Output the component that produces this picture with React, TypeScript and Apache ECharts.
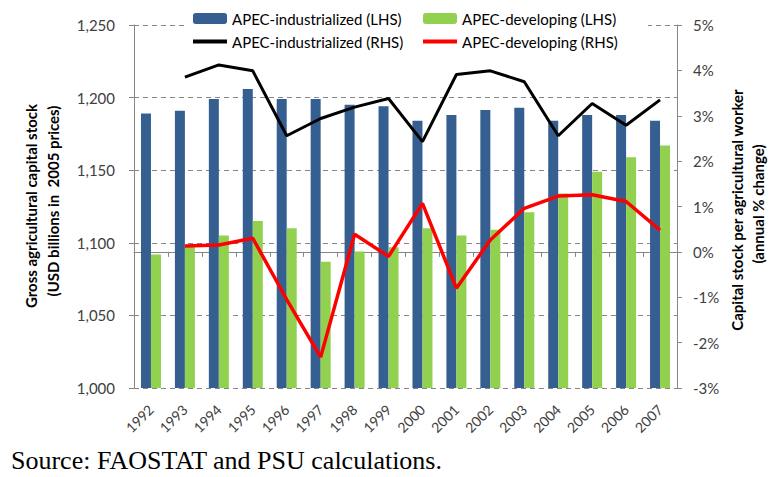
import React, { useEffect, useRef } from "react";
import * as echarts from "echarts";

const years = ["1992", "1993", "1994", "1995", "1996", "1997", "1998", "1999", "2000", "2001", "2002", "2003", "2004", "2005", "2006", "2007"];
const industrializedStock = [1189, 1191, 1199, 1206, 1199, 1199, 1195, 1194, 1184, 1188, 1191.5, 1193, 1184, 1188, 1188, 1184];
const developingStock = [1092, 1098, 1105, 1115, 1110, 1087, 1094, 1097, 1110, 1105, 1109, 1121, 1134, 1149, 1159, 1167];
const industrializedGrowth = [null, 3.85, 4.12, 3.99, 2.56, 2.94, 3.19, 3.38, 2.43, 3.91, 3.99, 3.75, 2.56, 3.27, 2.79, 3.35];
const developingGrowth = [null, 0.13, 0.15, 0.3, -1.05, -2.32, 0.39, -0.1, 1.07, -0.8, 0.26, 0.96, 1.23, 1.26, 1.11, 0.48];

const leftAxis = { min: 1000, max: 1250, interval: 50 };
const rightAxis = { min: -3, max: 5, interval: 1 };

const seriesNames = [
  "APEC-industrialized (LHS)",
  "APEC-developing (LHS)",
  "APEC-industrialized (RHS)",
  "APEC-developing (RHS)",
];

const FONT = "Lato, 'Open Sans', sans-serif";
const AXIS_GRAY = "#868686";
const LABEL_COLOR = "#404040";

export default function App() {
  const ref = useRef<HTMLDivElement>(null);
  useEffect(() => {
    if (!ref.current) return;
    const chart = echarts.init(ref.current, null, { renderer: "svg" });
    const legendBase = {
      padding: 0,
      itemWidth: 34,
      itemHeight: 11,
      textStyle: { fontFamily: FONT, fontSize: 15, color: "#000" },
      selectedMode: false,
    };
    const titleStyle = {
      fontFamily: FONT,
      fontWeight: "bold",
      fontSize: 15,
      fill: "#000",
      align: "center",
      verticalAlign: "middle",
    };
    chart.setOption({
      animation: false,
      backgroundColor: "#fff",
      grid: { left: 134, right: 97, top: 25, bottom: 89, containLabel: false },
      legend: [
        { ...legendBase, data: [seriesNames[0]], left: 193, top: 11 },
        { ...legendBase, data: [seriesNames[1]], left: 423, top: 11 },
        { ...legendBase, data: [{ name: seriesNames[2], icon: "rect" }], itemHeight: 4, left: 193, top: 34 },
        { ...legendBase, data: [{ name: seriesNames[3], icon: "rect" }], itemHeight: 4, left: 423, top: 34 },
      ],
      xAxis: {
        type: "category",
        data: years,
        boundaryGap: true,
        axisLine: { lineStyle: { color: AXIS_GRAY, width: 1 } },
        axisTick: { show: true, length: 5, lineStyle: { color: AXIS_GRAY } },
        axisLabel: {
          rotate: 45,
          margin: 19,
          interval: 0,
          fontFamily: FONT,
          fontSize: 14,
          color: LABEL_COLOR,
        },
      },
      yAxis: [
        {
          type: "value",
          min: leftAxis.min,
          max: leftAxis.max,
          interval: leftAxis.interval,
          position: "left",
          axisLine: { show: true, lineStyle: { color: AXIS_GRAY } },
          axisTick: { show: true, length: 5, lineStyle: { color: AXIS_GRAY } },
          axisLabel: {
            margin: 19,
            fontFamily: FONT,
            fontSize: 15,
            color: LABEL_COLOR,
            formatter: (v: number) => v.toLocaleString("en-US"),
          },
          splitLine: {
            show: true,
            lineStyle: { color: AXIS_GRAY, type: [5, 4], width: 1 },
          },
        },
        {
          type: "value",
          min: rightAxis.min,
          max: rightAxis.max,
          interval: rightAxis.interval,
          position: "right",
          axisLine: { show: true, lineStyle: { color: AXIS_GRAY } },
          axisTick: { show: true, length: 5, lineStyle: { color: AXIS_GRAY } },
          axisLabel: {
            margin: 16,
            fontFamily: FONT,
            fontSize: 15,
            color: LABEL_COLOR,
            formatter: (v: number) => `${v}%`,
          },
          splitLine: { show: false },
        },
      ],
      series: [
        {
          name: seriesNames[0],
          type: "bar",
          yAxisIndex: 0,
          data: industrializedStock,
          barWidth: 10,
          barGap: "0%",
          itemStyle: { color: "#365F91" },
          z: 2,
        },
        {
          name: seriesNames[1],
          type: "bar",
          yAxisIndex: 0,
          data: developingStock,
          barWidth: 10,
          barGap: "0%",
          itemStyle: { color: "#92D050" },
          z: 2,
        },
        {
          name: seriesNames[2],
          type: "line",
          yAxisIndex: 1,
          data: industrializedGrowth,
          symbol: "none",
          lineStyle: { color: "#000", width: 3 },
          itemStyle: { color: "#000" },
          z: 3,
        },
        {
          name: seriesNames[3],
          type: "line",
          yAxisIndex: 1,
          data: developingGrowth,
          symbol: "none",
          lineStyle: { color: "#FF0000", width: 3.5 },
          itemStyle: { color: "#FF0000" },
          z: 4,
        },
      ],
      graphic: [
        {
          type: "rect",
          shape: { x: 186, y: 4, width: 462, height: 48 },
          style: { fill: "#fff" },
          z: 3,
        },
        {
          type: "text",
          x: 31,
          y: 206,
          rotation: Math.PI / 2,
          style: { ...titleStyle, text: "Gross agricultural capital stock" },
        },
        {
          type: "text",
          x: 53,
          y: 201,
          rotation: Math.PI / 2,
          style: { ...titleStyle, text: "(USD billions in  2005 prices)" },
        },
        {
          type: "text",
          x: 737,
          y: 210,
          rotation: Math.PI / 2,
          style: { ...titleStyle, text: "Capital stock per agricultural worker" },
        },
        {
          type: "text",
          x: 758,
          y: 204,
          rotation: Math.PI / 2,
          style: { ...titleStyle, text: "(annual % change)" },
        },
        {
          type: "text",
          x: 11,
          y: 460,
          style: {
            text: "Source: FAOSTAT and PSU calculations.",
            fontFamily: "'Liberation Serif', 'DejaVu Serif', serif",
            fontSize: 26,
            fill: "#000",
            align: "left",
            verticalAlign: "middle",
          },
        },
      ],
    });
    return () => chart.dispose();
  }, []);
  return (
    <div
      ref={ref}
      style={{ position: "absolute", left: 0, top: 0, width: 774, height: 477, background: "#fff" }}
    />
  );
}
